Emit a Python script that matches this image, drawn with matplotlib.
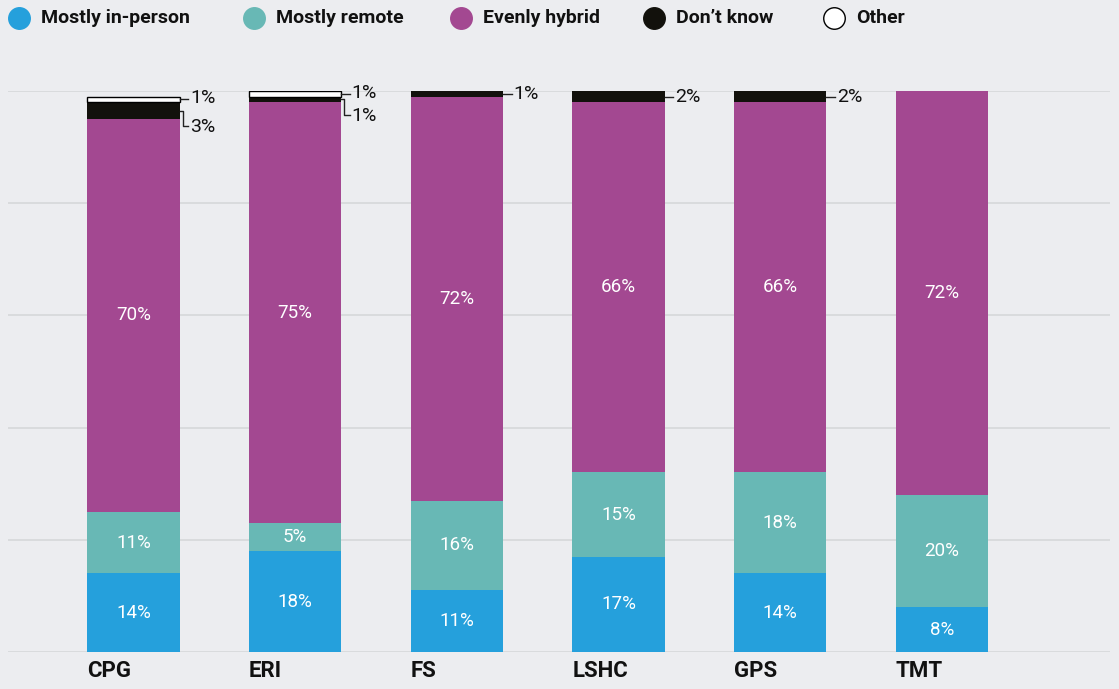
import matplotlib.pyplot as plt
from matplotlib.lines import Line2D
import numpy as np

categories = ['CPG', 'ERI', 'FS', 'LSHC', 'GPS', 'TMT']
series = ['Mostly in-person', 'Mostly remote', 'Evenly hybrid', "Don\u2019t know", 'Other']
in_person = [14, 18, 11, 17, 14, 8]
remote = [11, 5, 16, 15, 18, 20]
hybrid = [70, 75, 72, 66, 66, 72]
dont_know = [3, 1, 1, 2, 2, 0]
other = [1, 1, 0, 0, 0, 0]

colors = ['#25a0dc', '#68b8b5', '#a34891', '#12110c', '#ffffff']
bg = '#ecedf0'

plt.rcParams['font.family'] = ['Roboto', 'DejaVu Sans']

fig = plt.figure(figsize=(11.19, 6.89), dpi=100, facecolor=bg)
ax = fig.add_axes([8 / 1119, 37 / 689, 1102 / 1119, 561 / 689])
ax.set_facecolor(bg)
for s in ax.spines.values():
    s.set_visible(False)

x = np.arange(len(categories))
width = 0.57
bottom = np.zeros(len(categories))
all_vals = [in_person, remote, hybrid, dont_know, other]
for k, vals in enumerate(all_vals):
    vals = np.array(vals, dtype=float)
    keep = vals > 0
    edge = 'black' if k == 4 else 'none'
    ax.bar(x[keep], vals[keep], width, bottom=bottom[keep], color=colors[k],
           edgecolor=edge, linewidth=1.0, zorder=3)
    if k < 3:
        for i, v in enumerate(vals):
            ax.text(x[i], bottom[i] + v / 2, f'{int(v)}%', color='white',
                    ha='center', va='center', fontsize=13.5, zorder=4)
    bottom += vals

# leader labels for small segments
for i in range(len(categories)):
    base = in_person[i] + remote[i] + hybrid[i]
    right = x[i] + width / 2
    small = []
    if dont_know[i]:
        small.append((base + dont_know[i] / 2, dont_know[i]))
    if other[i]:
        small.append((base + dont_know[i] + other[i] / 2, other[i]))
    if len(small) == 1:
        yc, v = small[0]
        ax.plot([right, right + 0.055], [yc, yc], color='#222222', lw=1, clip_on=False, zorder=4)
        ax.text(right + 0.065, yc, f'{v}%', ha='left', va='center', fontsize=14, color='#111111')
    elif len(small) == 2:
        (y1, v1), (y2, v2) = small
        ax.plot([right, right + 0.055], [y2, y2], color='#222222', lw=1, clip_on=False, zorder=4)
        ax.text(right + 0.065, y2 + 0.2, f'{v2}%', ha='left', va='center', fontsize=14, color='#111111')
        ylow = y1 - 2.7
        ax.plot([right, right + 0.02, right + 0.02, right + 0.055],
                [y1, y1, ylow, ylow], color='#222222', lw=1, clip_on=False, zorder=4)
        ax.text(right + 0.065, ylow - 0.3, f'{v1}%', ha='left', va='center', fontsize=14, color='#111111')

ax.set_ylim(0, 100)
ax.set_xlim(-0.776, 6.04)
ax.set_yticks(np.arange(0, 101, 20))
ax.set_yticklabels([])
ax.tick_params(axis='y', length=0)
ax.grid(axis='y', color='#d6d8da', lw=1.2, zorder=0)
ax.set_xticks(x - width / 2)
ax.set_xticklabels(categories, ha='left', fontsize=16, fontweight='bold', color='#111111')
ax.tick_params(axis='x', length=0, pad=6)

# legend row across the top
marker_px = [19, 254, 461, 654, 834]
for c, name, mx in zip(colors, series, marker_px):
    ec = 'black' if c == '#ffffff' else c
    fig.add_artist(Line2D([mx / 1119], [1 - 18 / 689], marker='o', ls='none',
                          markersize=15.5, markerfacecolor=c, markeredgecolor=ec,
                          markeredgewidth=1.0, transform=fig.transFigure))
    fig.text((mx + 22) / 1119, 1 - 18 / 689, name, ha='left', va='center',
             fontsize=14, fontweight='bold', color='#111111')

fig.savefig('out.png', dpi=100, facecolor=bg)
